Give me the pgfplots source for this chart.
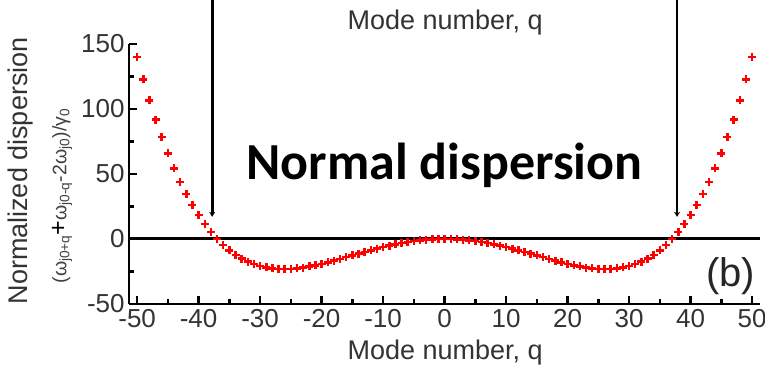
\documentclass[border=0pt]{standalone}
\usepackage{pgfplots}
\pgfplotsset{compat=1.18}
\usepackage{pgfplotstable}
\usepackage{fontspec}
\setmainfont{Liberation Sans}
\newfontfamily\carlito{Carlito}
\usetikzlibrary{arrows.meta}

\pgfplotstableread{
q D
-50 139.96
-49 122.65
-48 106.64
-47 91.85
-46 78.24
-45 65.76
-44 54.34
-43 43.93
-42 34.49
-41 25.96
-40 18.30
-39 11.44
-38 5.36
-37 0.00
-36 -4.68
-35 -8.73
-34 -12.19
-33 -15.09
-32 -17.49
-31 -19.41
-30 -20.89
-29 -21.98
-28 -22.70
-27 -23.09
-26 -23.19
-25 -23.02
-24 -22.61
-23 -22.00
-22 -21.20
-21 -20.26
-20 -19.19
-19 -18.01
-18 -16.76
-17 -15.45
-16 -14.10
-15 -12.74
-14 -11.38
-13 -10.04
-12 -8.73
-11 -7.47
-10 -6.28
-9 -5.16
-8 -4.13
-7 -3.20
-6 -2.38
-5 -1.66
-4 -1.07
-3 -0.61
-2 -0.27
-1 -0.07
0 0.00
1 -0.07
2 -0.27
3 -0.61
4 -1.07
5 -1.66
6 -2.38
7 -3.20
8 -4.13
9 -5.16
10 -6.28
11 -7.47
12 -8.73
13 -10.04
14 -11.38
15 -12.74
16 -14.10
17 -15.45
18 -16.76
19 -18.01
20 -19.19
21 -20.26
22 -21.20
23 -22.00
24 -22.61
25 -23.02
26 -23.19
27 -23.09
28 -22.70
29 -21.98
30 -20.89
31 -19.41
32 -17.49
33 -15.09
34 -12.19
35 -8.73
36 -4.68
37 0.00
38 5.36
39 11.44
40 18.30
41 25.96
42 34.49
43 43.93
44 54.34
45 65.76
46 78.24
47 91.85
48 106.64
49 122.65
50 139.96
}\dispdata

\begin{document}
\begin{tikzpicture}
\begin{axis}[
  scale only axis, width=631pt, height=260pt,
  xmin=-51.3, xmax=51.3, ymin=-50, ymax=150,
  axis lines=left,
  axis line style={-, line width=2.5pt, black},
  clip=false,
  xtick={-50,-40,...,50}, ytick={-50,0,...,150},
  minor x tick num=1, minor y tick num=1,
  tick align=inside,
  major tick length=8pt, minor tick length=5pt,
  every tick/.style={black, line width=2.5pt},
  tick label style={font=\fontsize{26}{28}\selectfont, text=black!80},
  /pgf/number format/assume math mode=true,
  xticklabel style={yshift=-2pt},
  yticklabel style={xshift=-1pt},
]
\draw[line width=3pt] (axis cs:-51.3,0) -- (axis cs:51.3,0);
\addplot[only marks, mark=+, mark size=4pt, red, mark options={line width=2.5pt}] table[x=q, y=D] {\dispdata};

\draw[line width=2.8pt, -{Stealth[length=5pt,width=6pt]}] (axis cs:-37.8,184) -- (axis cs:-37.8,17);
\draw[line width=2.8pt, -{Stealth[length=5pt,width=6pt]}] (axis cs:37.8,184) -- (axis cs:37.8,17);

\node[anchor=base, font=\carlito\bfseries\fontsize{52}{56}\selectfont] at (axis cs:0,45.4) {Normal dispersion};
\node[anchor=base, font=\fontsize{40}{44}\selectfont, text=black!85] at (axis cs:46.5,-36.5) {(b)};

\node[anchor=base, font=\fontsize{27}{30}\selectfont, text=black!80] at (axis cs:0.1,160.8) {Mode number, q};
\node[anchor=base, font=\fontsize{27}{30}\selectfont, text=black!80] at (axis cs:0.1,-93) {Mode number, q};

\node[rotate=90, font=\fontsize{27}{30}\selectfont, text=black!80] at (axis cs:-68.9,52.3) {Normalized dispersion};
\node[rotate=90, font=\fontsize{19.5}{22}\selectfont, text=black!75] at (axis cs:-62.2,33) {(ω\textsubscript{j0+q}{\color{black}\fontsize{25}{27}\selectfont+}ω\textsubscript{j0-q}-2ω\textsubscript{j0})/γ\textsubscript{0}};

\coordinate (BBl) at (axis cs:-72.3,-102.3);
\coordinate (BBr) at (axis cs:52.1,183.8);
\end{axis}
\pgfresetboundingbox
\useasboundingbox (BBl) rectangle (BBr);
\end{tikzpicture}
\end{document}
